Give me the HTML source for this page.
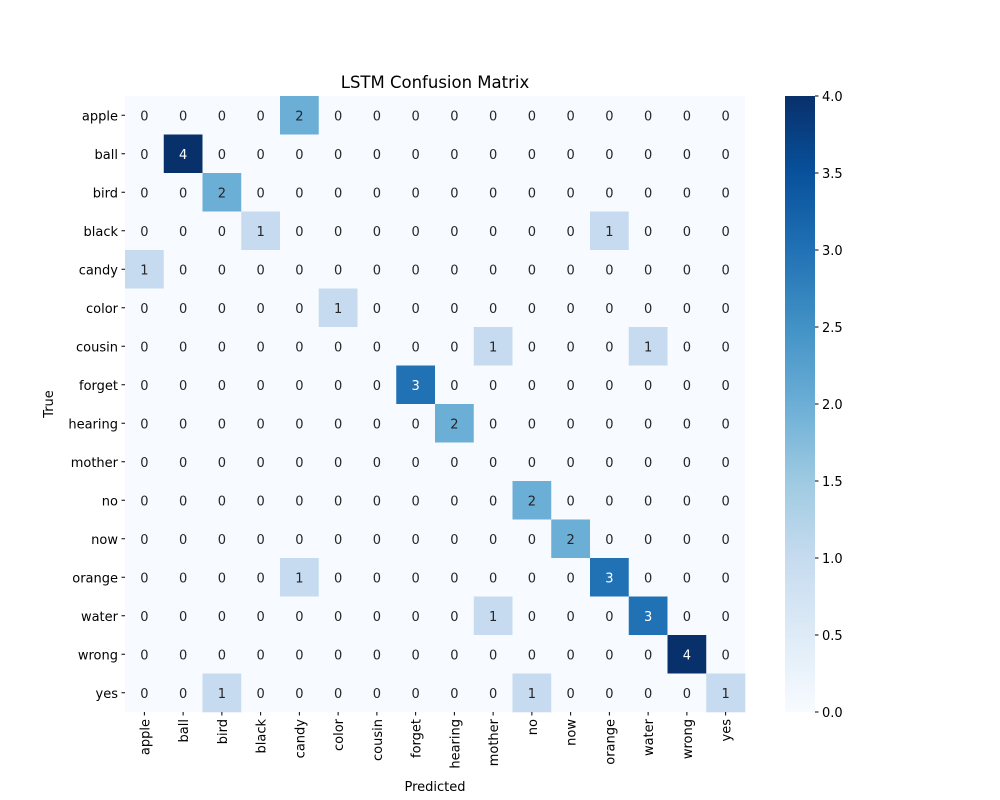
<!DOCTYPE html>
<html><head><meta charset="utf-8">
<style>body{margin:0;background:#fff}svg{display:block;font-family:"DejaVu Sans","Liberation Sans",sans-serif}</style>
</head><body>
<svg id="chart" width="1000" height="800" xmlns="http://www.w3.org/2000/svg">
<defs><linearGradient id="blues" x1="0" y1="1" x2="0" y2="0">
<stop offset="0" stop-color="#f7fbff"/><stop offset="0.125" stop-color="#deebf7"/><stop offset="0.25" stop-color="#c6dbef"/><stop offset="0.375" stop-color="#9ecae1"/><stop offset="0.5" stop-color="#6baed6"/><stop offset="0.625" stop-color="#4292c6"/><stop offset="0.75" stop-color="#2171b5"/><stop offset="0.875" stop-color="#08519c"/><stop offset="1" stop-color="#08306b"/></linearGradient></defs>
<text x="435" y="88" text-anchor="middle" font-size="16.5">LSTM Confusion Matrix</text>
<text x="435" y="791" text-anchor="middle" font-size="13">Predicted</text>
<text transform="translate(53,404) rotate(-90)" text-anchor="middle" font-size="13">True</text>
<g id="cells"></g><g id="xt"></g><g id="yt"></g>
<rect x="785" y="96" width="30" height="616" fill="url(#blues)"/>
<g id="cb"></g>
</svg>
<script>
const labels=["apple","ball","bird","black","candy","color","cousin","forget","hearing","mother","no","now","orange","water","wrong","yes"];
const matrix=[
[0,0,0,0,2,0,0,0,0,0,0,0,0,0,0,0],
[0,4,0,0,0,0,0,0,0,0,0,0,0,0,0,0],
[0,0,2,0,0,0,0,0,0,0,0,0,0,0,0,0],
[0,0,0,1,0,0,0,0,0,0,0,0,1,0,0,0],
[1,0,0,0,0,0,0,0,0,0,0,0,0,0,0,0],
[0,0,0,0,0,1,0,0,0,0,0,0,0,0,0,0],
[0,0,0,0,0,0,0,0,0,1,0,0,0,1,0,0],
[0,0,0,0,0,0,0,3,0,0,0,0,0,0,0,0],
[0,0,0,0,0,0,0,0,2,0,0,0,0,0,0,0],
[0,0,0,0,0,0,0,0,0,0,0,0,0,0,0,0],
[0,0,0,0,0,0,0,0,0,0,2,0,0,0,0,0],
[0,0,0,0,0,0,0,0,0,0,0,2,0,0,0,0],
[0,0,0,0,1,0,0,0,0,0,0,0,3,0,0,0],
[0,0,0,0,0,0,0,0,0,1,0,0,0,3,0,0],
[0,0,0,0,0,0,0,0,0,0,0,0,0,0,4,0],
[0,0,1,0,0,0,0,0,0,0,1,0,0,0,0,1]];
const cbTicks=[0,0.5,1,1.5,2,2.5,3,3.5,4];
const vmax=4;
const NS="http://www.w3.org/2000/svg";
const X0=125,Y0=96,W=620,H=616,n=labels.length,cw=W/n,ch=H/n;
const stops=[[247,251,255],[222,235,247],[198,219,239],[158,202,225],[107,174,214],[66,146,198],[33,113,181],[8,81,156],[8,48,107]];
function color(v){let t=v/vmax*8,i=Math.min(7,Math.floor(t)),f=t-i,a=stops[i],b=stops[i+1];return `rgb(${a.map((c,k)=>Math.round(c+(b[k]-c)*f)).join(',')})`;}
function el(tag,attrs,parent){const e=document.createElementNS(NS,tag);for(const k in attrs)e.setAttribute(k,attrs[k]);parent.appendChild(e);return e;}
const cells=document.getElementById('cells'),xt=document.getElementById('xt'),yt=document.getElementById('yt'),cb=document.getElementById('cb');
matrix.forEach((row,i)=>row.forEach((v,j)=>{
 const r=el('rect',{x:X0+j*cw,y:Y0+i*ch,width:cw+0.3,height:ch+0.3,fill:color(v)},cells);
 
 
 const t=el('text',{x:X0+(j+0.5)*cw,y:Y0+(i+0.5)*ch+5,'text-anchor':'middle','font-size':'13',fill:v/vmax>0.6?'#fff':'#262626'},cells);
 t.textContent=v;
 
 
}));
labels.forEach((l,k)=>{
 const x=X0+(k+0.5)*cw;
 el('line',{x1:x,x2:x,y1:Y0+H,y2:Y0+H+3.5,stroke:'#000'},xt);
 const t=el('text',{transform:`translate(${x+5},${Y0+H+7}) rotate(-90)`,'text-anchor':'end','font-size':'13'},xt);
 t.textContent=l;
 
 
 const y=Y0+(k+0.5)*ch;
 el('line',{x1:X0-3.5,x2:X0,y1:y,y2:y,stroke:'#000'},yt);
 const u=el('text',{x:X0-7,y:y+5,'text-anchor':'end','font-size':'13'},yt);
 u.textContent=l;
 
 
});
cbTicks.forEach(v=>{
 const y=Y0+H-v/vmax*H;
 el('line',{x1:815,x2:818.5,y1:y,y2:y,stroke:'#000'},cb);
 const t=el('text',{x:822,y:y+5,'font-size':'13'},cb);
 t.textContent=v.toFixed(1);
 
 
});
</script>
</body></html>
